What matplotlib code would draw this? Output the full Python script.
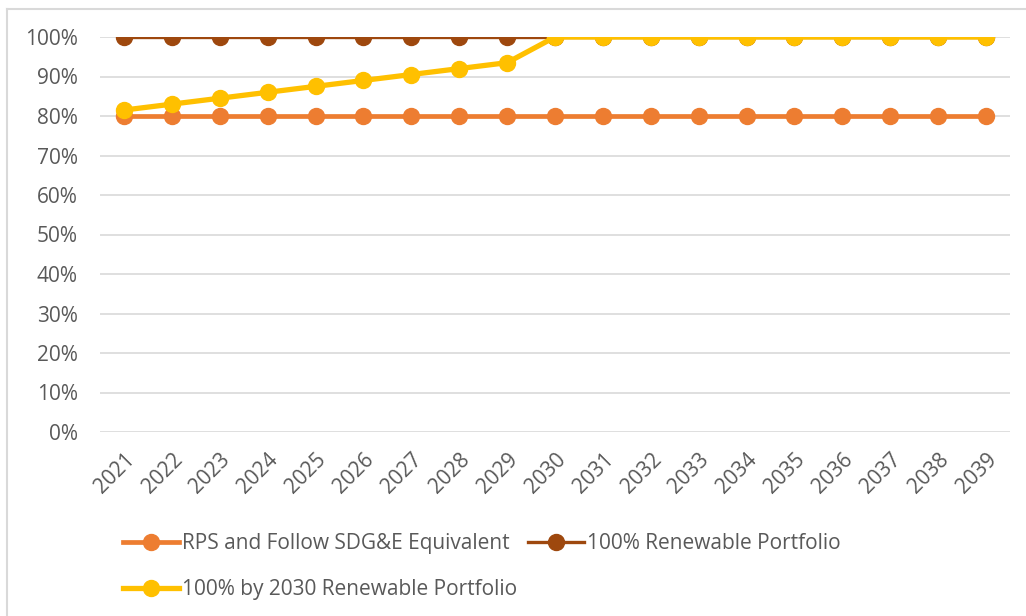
import matplotlib
matplotlib.use("Agg")
import matplotlib.pyplot as plt
from matplotlib.lines import Line2D
from matplotlib.ticker import PercentFormatter

years = [str(y) for y in range(2021, 2040)]
rps = [80] * 19
full = [100] * 19
by2030 = [81.5, 83, 84.5, 86, 87.5, 89, 90.5, 92, 93.5,
          100, 100, 100, 100, 100, 100, 100, 100, 100, 100]
labels = ["RPS and Follow SDG&E Equivalent", "100% Renewable Portfolio",
          "100% by 2030 Renewable Portfolio"]
yticks = list(range(0, 101, 10))

plt.rcParams['font.family'] = ['Open Sans', 'DejaVu Sans']
txt = '#595959'

W, H = 1026, 616
fig = plt.figure(figsize=(W / 100, H / 100), dpi=100)
ax = fig.add_axes([100 / W, 1 - 432 / H, 910 / W, 395 / H])

x = list(range(len(years)))

h1, = ax.plot(x, rps, color='#ED7D31', lw=3.4, marker='o', ms=11.5, zorder=3,
              label=labels[0])
h2, = ax.plot(x, full, color='#9E480E', lw=2.4, marker='o', ms=11.5, zorder=4,
              label=labels[1])
h3, = ax.plot(x, by2030, color='#FFC000', lw=3.8, marker='o', ms=11.5, zorder=5,
              label=labels[2])

ax.set_xlim(-0.5, len(years) - 0.5)
ax.set_ylim(0, 100)
ax.set_yticks(yticks)
ax.yaxis.set_major_formatter(PercentFormatter(decimals=0))
ax.set_xticks(x)
ax.set_xticklabels(years, rotation=45, ha='right', rotation_mode='anchor')
ax.tick_params(axis='both', length=0, labelsize=15, colors=txt)
ax.tick_params(axis='y', pad=16)
ax.tick_params(axis='x', pad=12)
ax.grid(axis='y', color='#D9D9D9', lw=1.2)
ax.set_axisbelow(True)
for s in ax.spines.values():
    s.set_visible(False)

leg = fig.legend([h1, h3, h2], [labels[0], labels[2], labels[1]],
                 loc='upper left', bbox_to_anchor=(123 / W, 1 - 533 / H),
                 ncol=2, frameon=False, fontsize=15, labelcolor=txt,
                 handlelength=2.7, handletextpad=0.15, columnspacing=0.5,
                 labelspacing=1.2, borderaxespad=0, borderpad=0)

fig.add_artist(Line2D([7 / W, 7 / W], [0, 1 - 9 / H], color='#D9D9D9', lw=1.5))
fig.add_artist(Line2D([7 / W, 1], [1 - 9 / H, 1 - 9 / H], color='#D9D9D9', lw=1.5))

fig.savefig('out.png', dpi=100, facecolor='white')
